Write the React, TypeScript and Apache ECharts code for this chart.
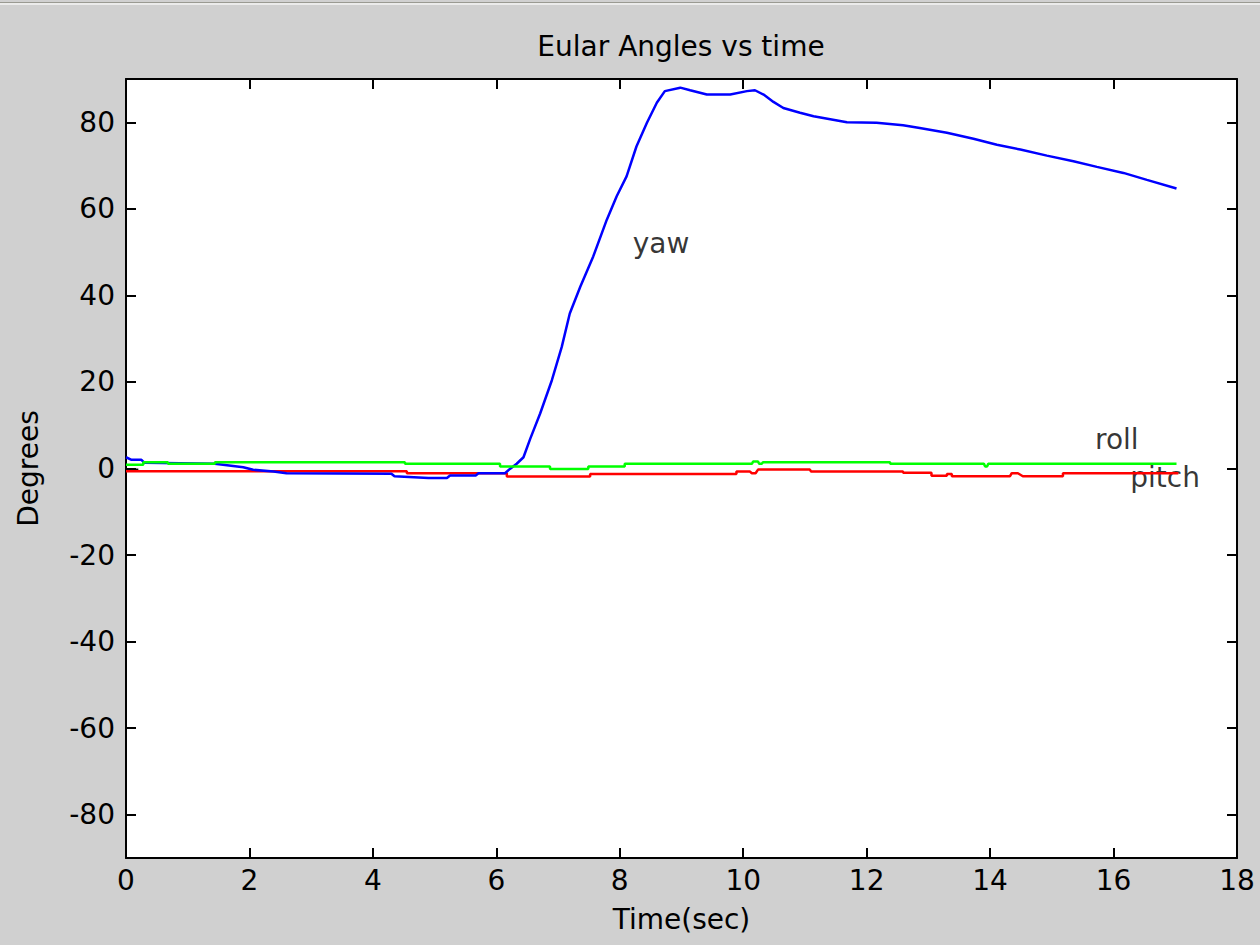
import React, { useEffect, useRef } from "react";
import * as echarts from "echarts";

const titleText = "Eular Angles vs time";
const xName = "Time(sec)";
const yName = "Degrees";
const yTicks = [-80, -60, -40, -20, 0, 20, 40, 60, 80];

const yawT = [0, 0.09, 0.25, 0.3, 1.44, 1.9, 2.06, 2.39, 2.6, 4.3, 4.35, 4.9, 5.2, 5.25, 5.67, 5.71, 6.14, 6.22, 6.33, 6.44, 6.55, 6.71, 6.9, 7.06, 7.19, 7.36, 7.57, 7.79, 7.95, 8.11, 8.27, 8.44, 8.6, 8.73, 8.98, 9.14, 9.41, 9.79, 10.06, 10.19, 10.33, 10.49, 10.65, 10.92, 11.14, 11.41, 11.68, 12.16, 12.59, 12.86, 13.3, 13.73, 14.11, 14.49, 14.92, 15.35, 15.73, 16.16, 16.54, 17.02];
const yawV = [2.6, 2.0, 2.0, 1.3, 1.1, 0.3, -0.3, -0.7, -1.1, -1.2, -1.8, -2.2, -2.2, -1.6, -1.6, -1.1, -1.1, -0.1, 1.1, 2.6, 6.9, 12.7, 20.4, 28.1, 35.8, 42, 49, 57.5, 62.9, 67.5, 74.4, 79.9, 84.5, 87.2, 88, 87.4, 86.4, 86.4, 87.2, 87.4, 86.4, 84.7, 83.3, 82.2, 81.4, 80.7, 80.0, 79.9, 79.3, 78.7, 77.6, 76.2, 74.8, 73.7, 72.3, 71, 69.7, 68.3, 66.7, 64.7];

const rollT = [0, 0.28, 0.28, 0.68, 0.68, 1.44, 1.44, 4.52, 4.52, 6.06, 6.06, 6.87, 6.87, 7.49, 7.49, 8.08, 8.08, 10.14, 10.16, 10.24, 10.26, 10.3, 10.32, 12.38, 12.38, 13.9, 13.92, 13.95, 13.97, 17.02];
const rollV = [0.85, 0.85, 1.45, 1.45, 1.07, 1.07, 1.45, 1.45, 1.07, 1.07, 0.44, 0.44, -0.1, -0.1, 0.44, 0.44, 1.07, 1.07, 1.6, 1.6, 1.07, 1.07, 1.45, 1.45, 1.07, 1.07, 0.44, 0.44, 1.07, 1.07];

const pitchT = [0, 4.55, 4.55, 6.17, 6.17, 7.52, 7.52, 9.89, 9.89, 10.11, 10.14, 10.2, 10.24, 11.08, 11.1, 12.59, 12.59, 13.05, 13.05, 13.3, 13.3, 13.38, 13.38, 14.32, 14.35, 14.45, 14.53, 15.18, 15.18, 17.05];
const pitchV = [-0.65, -0.65, -1.1, -1.1, -1.87, -1.87, -1.25, -1.25, -0.72, -0.72, -1.1, -1.1, -0.25, -0.25, -0.72, -0.72, -1.0, -1.0, -1.65, -1.65, -1.25, -1.25, -1.8, -1.8, -1.1, -1.1, -1.8, -1.8, -1.1, -1.1];

const extraT = [0, 0.2];
const extraV = [-0.3, -0.3];

const labelNames = ["yaw", "roll", "pitch"];
const labelT = [8.21, 15.7, 16.27];
const labelV = [52, 6.6, -2.1];

const FONT = "DejaVu Sans";

function pairs(t: number[], v: number[]) {
  return t.map((x, i) => [x, v[i]]);
}

export default function App() {
  const ref = useRef<HTMLDivElement>(null);
  useEffect(() => {
    document.body.style.margin = "0";
    const chart = echarts.init(ref.current!, null, { renderer: "svg" });
    const axisLine = { show: true, onZero: false, lineStyle: { color: "#000", width: 2 } };
    const tickStyle = { color: "#000", width: 2 };
    chart.setOption({
      animation: false,
      backgroundColor: "#d0d0d0",
      title: {
        text: titleText,
        left: 676,
        top: 27,
        textAlign: "center",
        textStyle: { fontFamily: FONT, fontSize: 28, fontWeight: "normal", color: "#000" },
      },
      grid: { left: 126, right: 23, top: 79, bottom: 87, show: true, backgroundColor: "#fff", borderWidth: 0, outerBoundsMode: "none" },
      xAxis: [
        {
          type: "value",
          min: 0,
          max: 18,
          interval: 2,
          position: "bottom",
          name: xName,
          nameLocation: "middle",
          nameGap: 47,
          nameTextStyle: { fontFamily: FONT, fontSize: 28, color: "#000" },
          axisLine,
          axisTick: { show: true, inside: true, length: 10, lineStyle: tickStyle },
          axisLabel: { fontFamily: FONT, fontSize: 28, color: "#000", margin: 8 },
          splitLine: { show: false },
        },
        {
          type: "value",
          min: 0,
          max: 18,
          interval: 2,
          position: "top",
          axisLine,
          axisTick: { show: true, inside: true, length: 10, lineStyle: tickStyle },
          axisLabel: { show: false },
          splitLine: { show: false },
        },
      ],
      yAxis: [
        {
          type: "value",
          min: -90,
          max: 90,
          position: "left",
          name: yName,
          nameLocation: "middle",
          nameGap: 84,
          nameTextStyle: { fontFamily: FONT, fontSize: 28, color: "#000" },
          axisLine,
          axisTick: { show: true, inside: true, length: 10, lineStyle: tickStyle, customValues: yTicks },
          axisLabel: { fontFamily: FONT, fontSize: 28, color: "#000", margin: 11, customValues: yTicks },
          splitLine: { show: false },
        },
        {
          type: "value",
          min: -90,
          max: 90,
          position: "right",
          axisLine,
          axisTick: { show: true, inside: true, length: 10, lineStyle: tickStyle, customValues: yTicks },
          axisLabel: { show: false, customValues: yTicks },
          splitLine: { show: false },
        },
      ],
      graphic: [
        { type: "line", shape: { x1: 0, y1: 2.5, x2: 1260, y2: 2.5 }, style: { stroke: "#9a9a92", lineWidth: 1 } },
        { type: "line", shape: { x1: 0, y1: 4, x2: 1260, y2: 4 }, style: { stroke: "#f4f4f4", lineWidth: 1.5 } },
      ],
      series: [
        {
          name: "extra",
          type: "line",
          data: pairs(extraT, extraV),
          showSymbol: false,
          lineStyle: { color: "#000", width: 2.5 },
        },
        {
          name: "pitch",
          type: "line",
          data: pairs(pitchT, pitchV),
          showSymbol: false,
          lineStyle: { color: "#ff0000", width: 2.5 },
        },
        {
          name: "yaw",
          type: "line",
          data: pairs(yawT, yawV),
          showSymbol: false,
          lineStyle: { color: "#0000ff", width: 2.5 },
        },
        {
          name: "roll",
          type: "line",
          data: pairs(rollT, rollV),
          showSymbol: false,
          lineStyle: { color: "#00ff00", width: 2.5 },
        },
        {
          name: "labels",
          type: "scatter",
          symbolSize: 0,
          data: labelNames.map((n, i) => ({ name: n, value: [labelT[i], labelV[i]] })),
          label: {
            show: true,
            position: "right",
            distance: 0,
            formatter: (p: any) => p.name,
            fontFamily: FONT,
            fontSize: 28,
            color: "#000",
            align: "left",
            verticalAlign: "middle",
          },
        },
      ],
    });
    return () => chart.dispose();
  }, []);
  return <div ref={ref} style={{ width: 1260, height: 945 }} />;
}
